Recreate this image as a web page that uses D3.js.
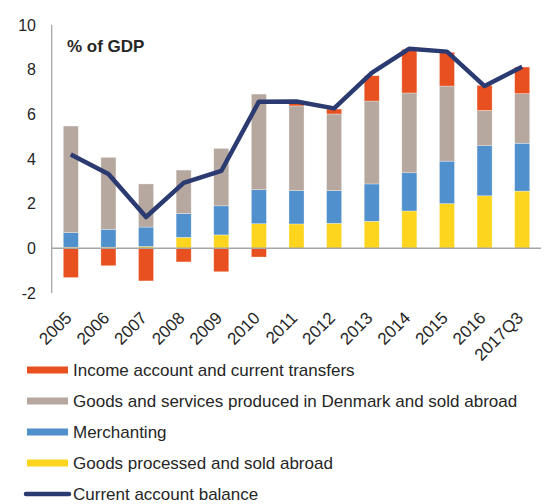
<!DOCTYPE html>
<html>
<head>
<meta charset="utf-8">
<script src="https://cdn.jsdelivr.net/npm/d3@7"></script>
<style>
  body { margin: 0; background: #fff; }
  text { font-family: "Liberation Sans", Arial, sans-serif; fill: #262626; }
</style>
</head>
<body>
<div id="chart"></div>
<script>
// categories and series (% of GDP)
var years = ["2005","2006","2007","2008","2009","2010","2011","2012","2013","2014","2015","2016","2017Q3"]
var processed   = [0.05, 0.05, 0.08, 0.49, 0.60, 1.10, 1.09, 1.12, 1.21, 1.67, 2.00, 2.35, 2.56]
var merchanting = [0.65, 0.80, 0.87, 1.06, 1.30, 1.52, 1.49, 1.46, 1.67, 1.71, 1.90, 2.24, 2.14]
var goodsServ   = [4.77, 3.22, 1.93, 1.95, 2.57, 4.28, 3.79, 3.43, 3.71, 3.57, 3.36, 1.58, 2.22]
var income      = [-1.31, -0.78, -1.46, -0.61, -1.05, -0.39, 0.13, 0.22, 1.13, 1.95, 1.51, 1.12, 1.19]
var balance     = [4.20, 3.32, 1.40, 2.93, 3.46, 6.56, 6.57, 6.26, 7.85, 8.93, 8.80, 7.26, 8.12]
var yTicks = [-2, 0, 2, 4, 6, 8, 10]

var width = 549
    height = 504

var svg = d3.select("#chart")
  .append("svg")
    .attr("width", width)
    .attr("height", height)

var x = d3.scaleBand()
  .domain(years)
  .range([52, 541])
  .paddingInner(0.6)
  .paddingOuter(0.3)

var y = d3.scaleLinear()
  .domain([-2, 10])
  .range([293, 24.8])

var series = [
  {name: "Income account and current transfers", color: "#e8511f", vals: income},
  {name: "Goods and services produced in Denmark and sold abroad", color: "#b6a89f", vals: goodsServ},
  {name: "Merchanting", color: "#4f90cd", vals: merchanting},
  {name: "Goods processed and sold abroad", color: "#fdd51f", vals: processed}
]

// stack order from bottom: processed, merchanting, goods/services, income
var stackOrder = [processed, merchanting, goodsServ, income]
var stackColors = ["#fdd51f", "#4f90cd", "#b6a89f", "#e8511f"]

var rects = []
years.forEach(function(yr, i) {
  var pos = 0, neg = 0
  for (var k = 0; k < stackOrder.length; k++) {
    var v = stackOrder[k][i]
    if (v >= 0) {
      rects.push({yr: yr, y0: pos, y1: pos + v, color: stackColors[k]})
      pos += v
    } else {
      rects.push({yr: yr, y0: neg + v, y1: neg, color: stackColors[k]})
      neg += v
    }
  }
})

svg.selectAll("rect.bar")
  .data(rects)
  .join("rect")
    .attr("class", "bar")
    .attr("x", function(d) { return x(d.yr) })
    .attr("width", x.bandwidth())
    .attr("y", function(d) { return y(d.y1) })
    .attr("height", function(d) { return y(d.y0) - y(d.y1) })
    .attr("fill", function(d) { return d.color })
    .attr("stroke", "#ffffff")
    .attr("stroke-opacity", 0.5)
    .attr("stroke-width", 0.6)

// y axis line
svg.append("line")
  .attr("x1", 51.7).attr("x2", 51.7)
  .attr("y1", y(10)).attr("y2", y(-2))
  .attr("stroke", "#a6a6a6")
  .attr("stroke-width", 1.3)

// zero line
svg.append("line")
  .attr("x1", 51.7).attr("x2", 541)
  .attr("y1", y(0)).attr("y2", y(0))
  .attr("stroke", "#a6a6a6")
  .attr("stroke-width", 1.5)

svg.selectAll("text.ytick")
  .data(yTicks)
  .join("text")
    .attr("class", "ytick")
    .attr("x", 36)
    .attr("y", function(d) { return y(d) })
    .attr("dy", "0.36em")
    .attr("text-anchor", "end")
    .style("font-size", "16px")
    .text(function(d) { return d })

svg.selectAll("text.xtick")
  .data(years)
  .join("text")
    .attr("class", "xtick")
    .attr("transform", function(d) {
      return "translate(" + (x(d) + x.bandwidth() / 2 + 2) + "," + 319 + ") rotate(-45)"
    })
    .attr("text-anchor", "end")
    .style("font-size", "17px")
    .text(function(d) { return d })

svg.append("text")
  .attr("x", 67)
  .attr("y", 52)
  .style("font-size", "17px")
  .style("font-weight", "bold")
  .text("% of GDP")

// current account balance line
var line = d3.line()
  .x(function(d, i) { return x(years[i]) + x.bandwidth() / 2 })
  .y(function(d) { return y(d) })

svg.append("path")
  .datum(balance)
  .attr("d", line)
  .attr("fill", "none")
  .attr("stroke", "#2b3a70")
  .attr("stroke-width", 4.5)
  .attr("stroke-linejoin", "round")

// legend
var legendY = [370, 401, 432, 463]
series.forEach(function(s, i) {
  svg.append("rect")
    .attr("x", 27).attr("y", legendY[i] - 3.5)
    .attr("width", 41).attr("height", 7)
    .attr("fill", s.color)
  svg.append("text")
    .attr("x", 73).attr("y", legendY[i])
    .attr("dy", "0.36em")
    .style("font-size", "17px")
    .text(s.name)
})
svg.append("line")
  .attr("x1", 26).attr("x2", 69)
  .attr("y1", 494).attr("y2", 494)
  .attr("stroke", "#2b3a70")
  .attr("stroke-width", 4.5)
  .attr("stroke-linecap", "round")
svg.append("text")
  .attr("x", 73).attr("y", 494)
  .attr("dy", "0.36em")
  .style("font-size", "17px")
  .text("Current account balance")
</script>
</body>
</html>
